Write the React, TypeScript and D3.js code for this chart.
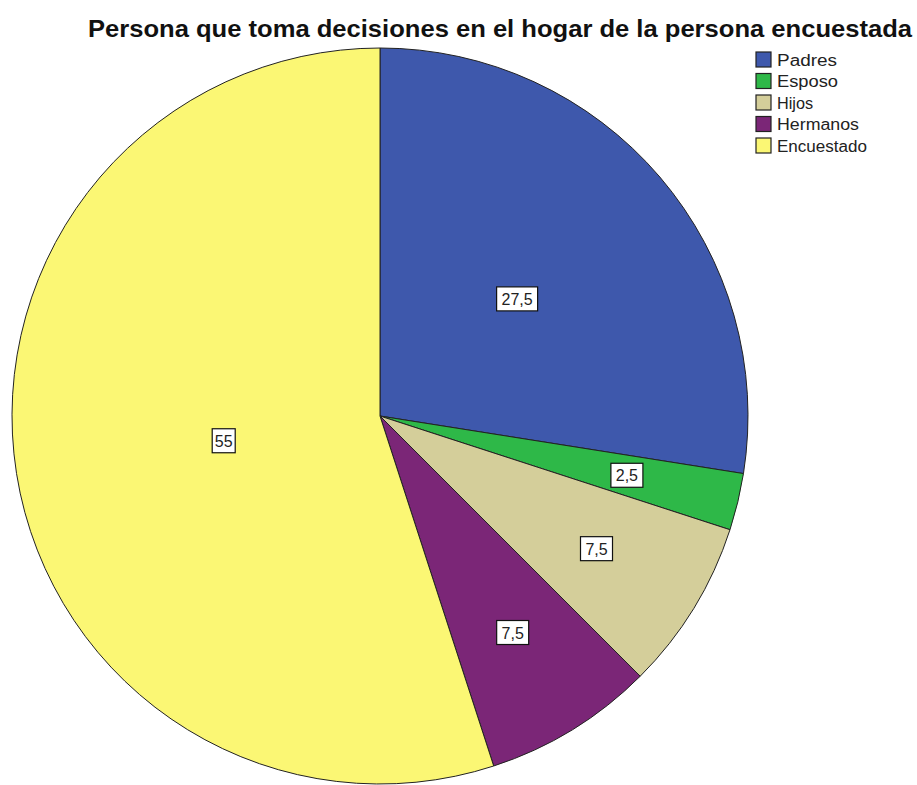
import React from 'react'
import * as d3 from 'd3'

const categories = ['Padres', 'Esposo', 'Hijos', 'Hermanos', 'Encuestado']
const values = [27.5, 2.5, 7.5, 7.5, 55]
const labels = ['27,5', '2,5', '7,5', '7,5', '55']
const colors = ['#3E58AC', '#2EB848', '#D4CE9A', '#7B2677', '#FBF774']

const title = 'Persona que toma decisiones en el hogar de la persona encuestada'

export default function App() {
  const width = 917, height = 785
  const cx = 380, cy = 416, r = 368

  const pie = d3.pie<number>().sort(null).value(d => d)
  const arcs = pie(values)
  const arc = d3.arc<d3.PieArcDatum<number>>().innerRadius(0).outerRadius(r)

  // label distance from centre shrinks for bigger slices
  const labelR = d3.scaleLinear().domain([7.5, 27.5, 55]).range([0.69, 0.49, 0.43]).clamp(true)

  return (
    <svg width={width} height={height} style={{ position: 'absolute', left: 0, top: 0, fontFamily: 'Liberation Sans, Arial, sans-serif' }}>
      <rect width={width} height={height} fill="#fff" />
      <text x={500} y={37} textAnchor="middle" fontSize={24} fontWeight="bold" fill="#111"
        textLength={824} lengthAdjust="spacingAndGlyphs">{title}</text>
      <g transform={`translate(${cx},${cy})`}>
        {arcs.map((a, i) => (
          <path key={i} d={arc(a) || ''} fill={colors[i]} stroke="#222" strokeWidth={1} />
        ))}
        {arcs.map((a, i) => {
          const mid = (a.startAngle + a.endAngle) / 2
          const rr = r * labelR(values[i])
          const x = Math.sin(mid) * rr
          const y = -Math.cos(mid) * rr
          const w = labels[i].length * 9 + 5
          return (
            <g key={'l' + i} transform={`translate(${x},${y})`}>
              <rect x={-w / 2} y={-12} width={w} height={24} fill="#fff" stroke="#111" strokeWidth={1.2} />
              <text y={6} textAnchor="middle" fontSize={16} fill="#222">{labels[i]}</text>
            </g>
          )
        })}
      </g>
      <g transform="translate(756,52)">
        {categories.map((c, i) => (
          <g key={c} transform={`translate(0,${i * 21.5})`}>
            <rect x={0} y={0} width={15} height={15} fill={colors[i]} stroke="#222" strokeWidth={1.2} />
            <text x={21} y={13.5} fontSize={16} fill="#222" textLength={[60, 61, 36, 82, 90][i]} lengthAdjust="spacingAndGlyphs">{c}</text>
          </g>
        ))}
      </g>
    </svg>
  )
}
